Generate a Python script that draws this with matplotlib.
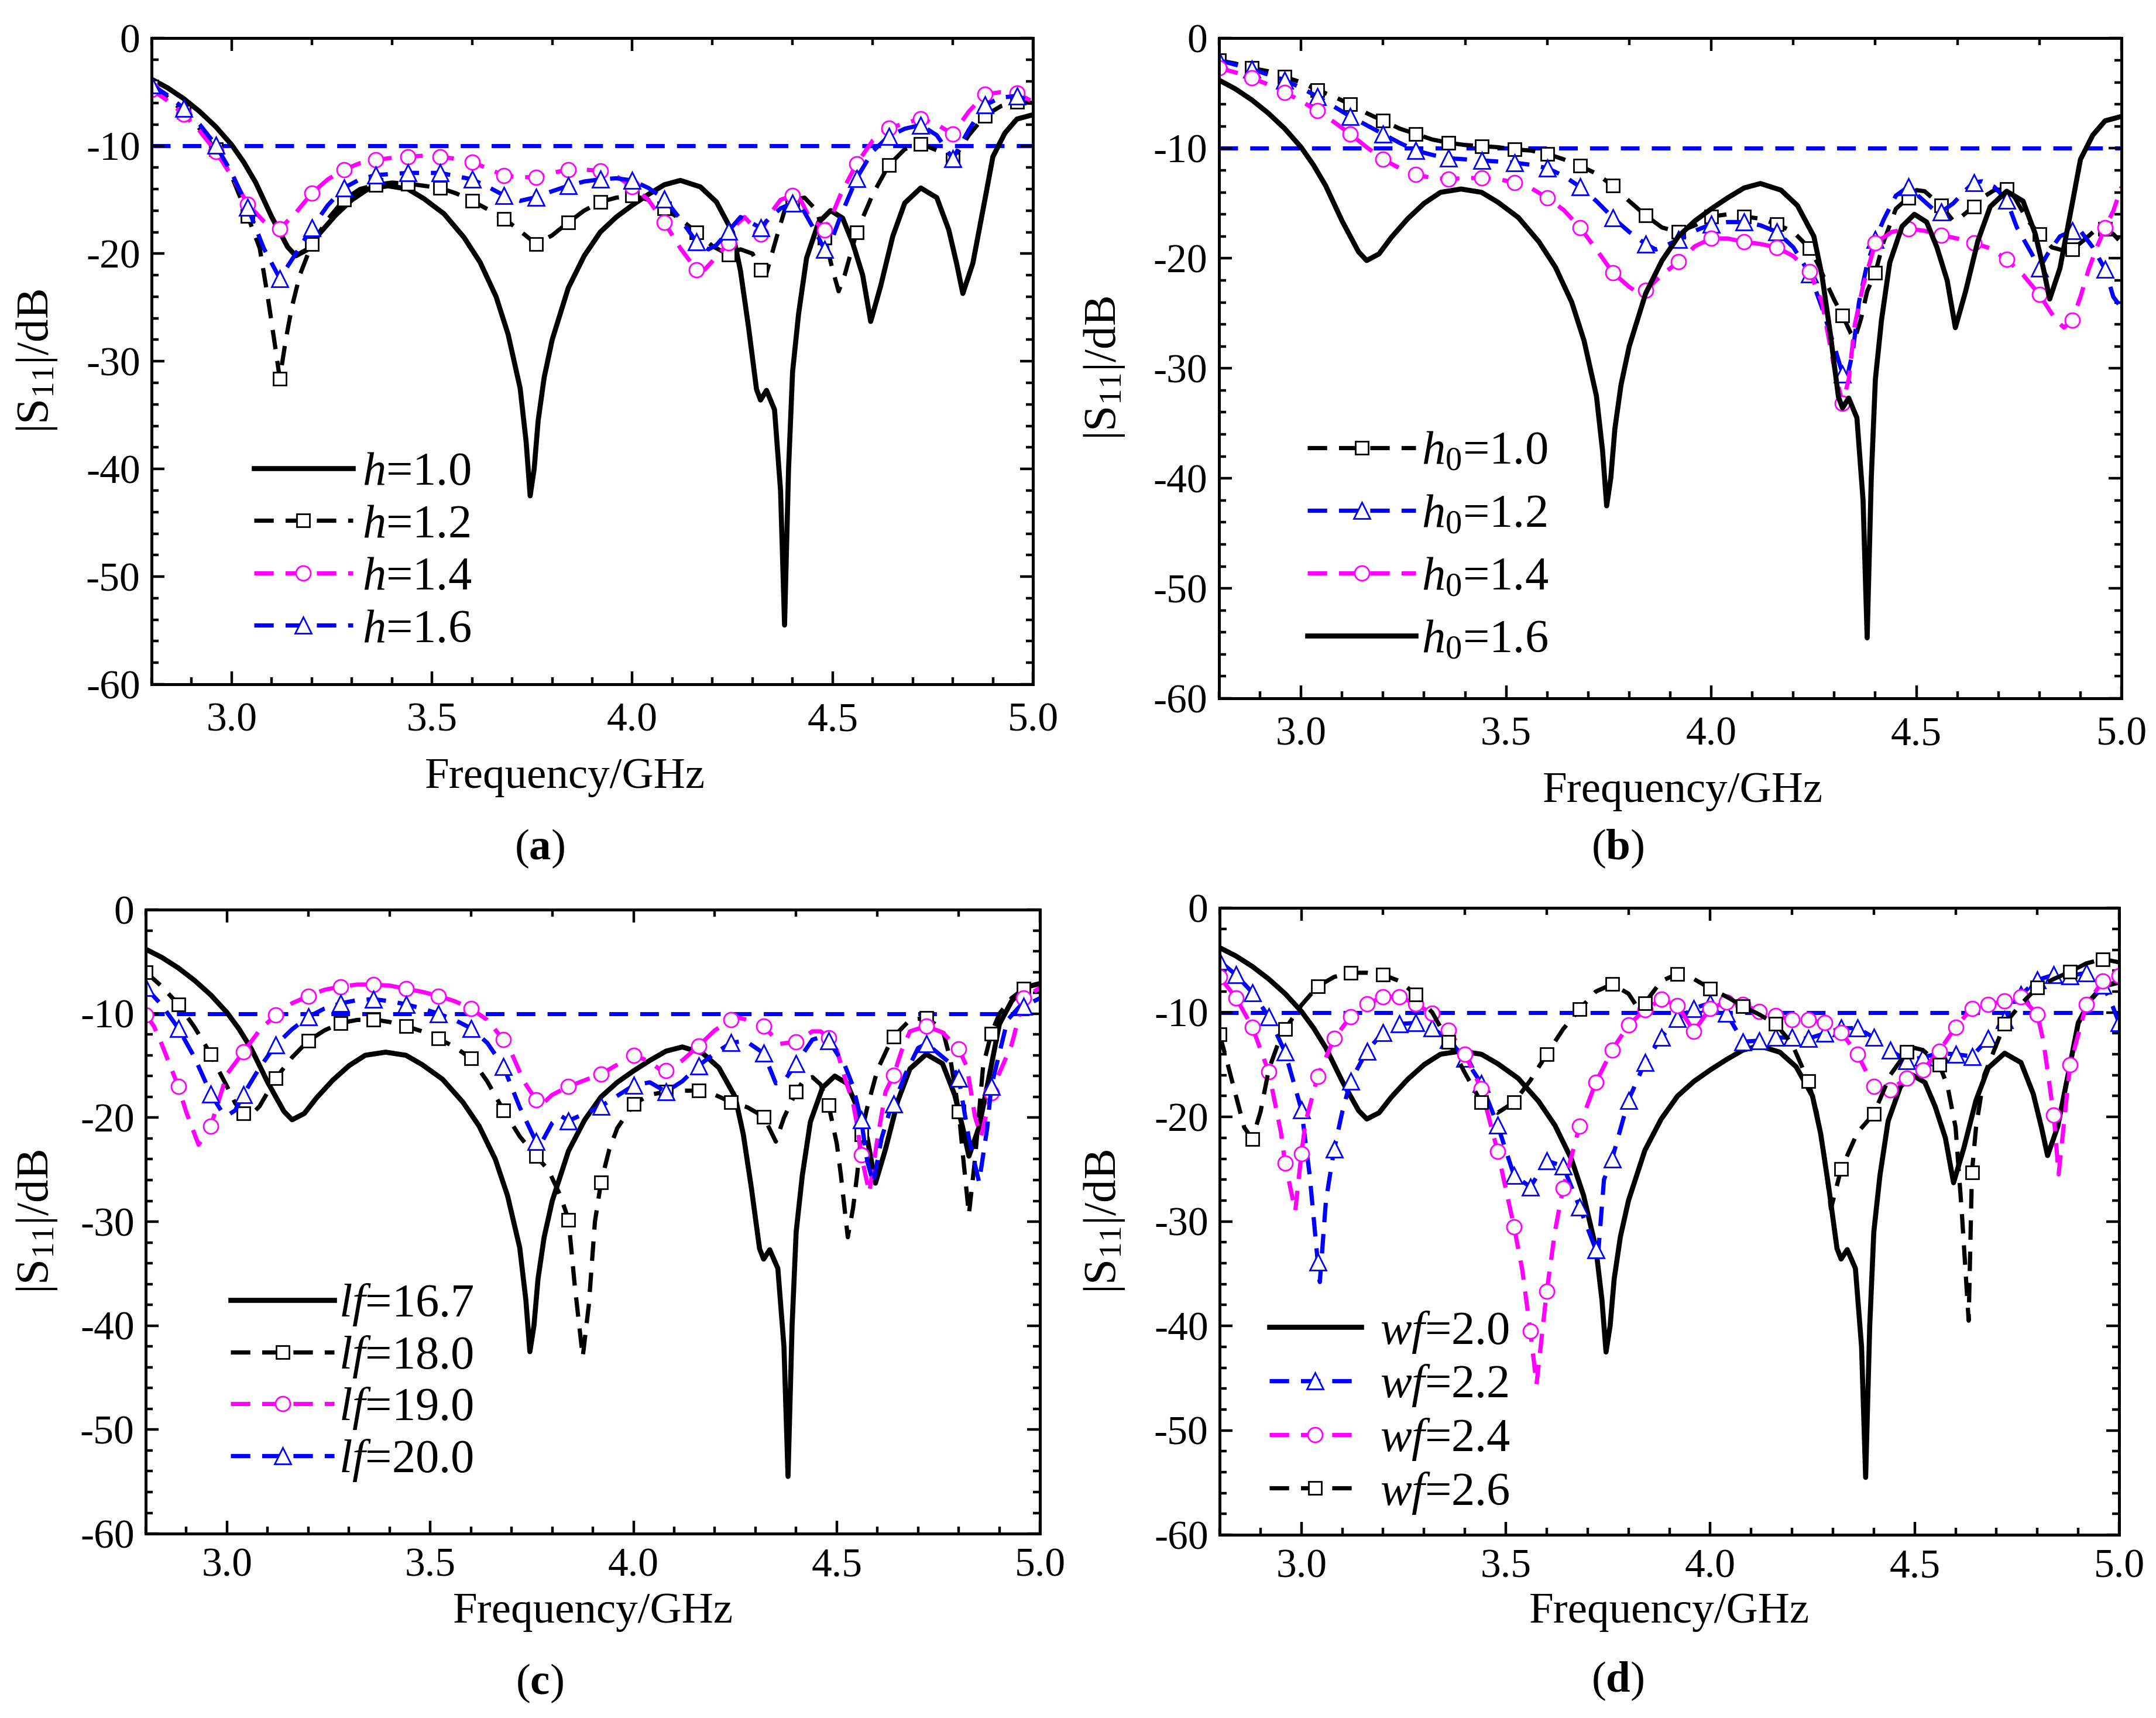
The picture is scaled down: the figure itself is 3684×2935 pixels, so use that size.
import matplotlib
matplotlib.use('Agg')
import matplotlib.pyplot as plt
import numpy as np
from matplotlib.ticker import MultipleLocator, FixedLocator, FormatStrFormatter, NullFormatter

plt.rcParams['font.family'] = ['Liberation Serif', 'DejaVu Serif']
plt.rcParams['mathtext.fontset'] = 'custom'
plt.rcParams['mathtext.rm'] = 'Liberation Serif'
plt.rcParams['mathtext.it'] = 'Liberation Serif:italic'
plt.rcParams['mathtext.bf'] = 'Liberation Serif:bold'
plt.rcParams['axes.unicode_minus'] = False

# 参考曲线 (h=1.0 / h0=1.6 / lf=16.7 / wf=2.0, 四幅图共用)
f_ref = [2.80, 2.84, 2.88, 2.92, 2.96, 3.00, 3.03, 3.06, 3.10, 3.14, 3.16, 3.19, 3.22, 3.26, 3.30,
         3.34, 3.39, 3.44, 3.48, 3.53, 3.58, 3.62, 3.66, 3.69, 3.72, 3.735, 3.745, 3.755, 3.765, 3.78,
         3.80, 3.84, 3.88, 3.92, 3.96, 4.00, 4.04, 4.08, 4.12, 4.17, 4.21, 4.25, 4.27, 4.29, 4.31,
         4.32, 4.335, 4.355, 4.37, 4.38, 4.39, 4.40, 4.415, 4.435, 4.465, 4.495, 4.525, 4.55, 4.575,
         4.595, 4.62, 4.65, 4.68, 4.72, 4.76, 4.79, 4.81, 4.825, 4.85, 4.88, 4.90, 4.93, 4.96, 5.00]
s_ref = [-3.8, -4.6, -5.6, -6.8, -8.2, -9.9, -11.5, -13.4, -16.6, -19.4, -20.2, -19.6, -18.1, -16.4, -15.0,
         -14.0, -13.7, -14.0, -14.9, -16.3, -18.5, -20.8, -24.0, -27.5, -32.5, -37.5, -42.5, -40.0, -35.5, -31.5,
         -28.0, -23.2, -20.2, -18.0, -16.6, -15.5, -14.5, -13.6, -13.2, -13.8, -15.2, -18.0, -21.6, -26.8, -32.6,
         -33.6, -32.7, -34.5, -42.0, -54.5, -40.0, -31.0, -25.6, -20.4, -17.1, -16.0, -16.7, -19.0, -22.0,
         -26.3, -23.0, -18.4, -15.3, -13.9, -14.8, -17.8, -21.0, -23.7, -20.9, -15.0, -11.0, -8.8, -7.5, -7.1]

# (a) h
f_a12 = [2.80, 2.84, 2.88, 2.92, 2.96, 3.00, 3.04, 3.07, 3.09, 3.11, 3.12, 3.135, 3.15, 3.17, 3.20, 3.24,
         3.28, 3.32, 3.36, 3.40, 3.44, 3.48, 3.52, 3.56, 3.60, 3.64, 3.68, 3.72, 3.76, 3.80, 3.84, 3.88,
         3.92, 3.96, 4.00, 4.04, 4.08, 4.12, 4.16, 4.20, 4.24, 4.27, 4.30, 4.32, 4.335, 4.36, 4.38, 4.40,
         4.43, 4.46, 4.48, 4.50, 4.515, 4.53, 4.56, 4.60, 4.64, 4.68, 4.72, 4.76, 4.80, 4.84, 4.88, 4.92,
         4.96, 5.00]
s_a12 = [-4.5, -5.5, -6.8, -8.4, -10.3, -12.8, -16.5, -19.5, -24.0, -29.0, -31.6, -28.0, -25.0, -22.0, -19.1, -16.8,
         -15.0, -14.0, -13.6, -13.4, -13.5, -13.7, -13.9, -14.4, -15.1, -15.9, -16.75, -17.9, -19.1, -18.3, -17.1, -16.0,
         -15.2, -14.8, -14.6, -15.0, -15.8, -16.8, -18.0, -19.3, -20.1, -19.6, -20.0, -21.5, -21.8, -18.5, -16.0, -15.0,
         -14.8, -16.0, -18.5, -21.5, -23.5, -22.0, -18.0, -14.5, -11.8, -10.3, -9.8, -10.4, -11.3, -9.0, -7.2, -6.3,
         -5.9, -6.0]
f_a14 = [2.80, 2.84, 2.88, 2.92, 2.96, 3.00, 3.04, 3.08, 3.11, 3.12, 3.16, 3.20, 3.24, 3.28, 3.32, 3.36,
         3.40, 3.44, 3.48, 3.52, 3.56, 3.60, 3.64, 3.68, 3.72, 3.76, 3.80, 3.84, 3.88, 3.92, 3.96, 4.00,
         4.04, 4.08, 4.12, 4.16, 4.18, 4.21, 4.24, 4.26, 4.28, 4.30, 4.32, 4.34, 4.37, 4.40, 4.42, 4.44,
         4.48, 4.50, 4.52, 4.56, 4.60, 4.64, 4.68, 4.72, 4.76, 4.80, 4.84, 4.88, 4.92, 4.96, 5.00]
s_a14 = [-4.75, -5.8, -7.06, -8.6, -10.5, -12.8, -15.4, -17.0, -17.9, -17.7, -16.2, -14.4, -13.1, -12.2, -11.6, -11.3,
         -11.1, -11.0, -10.9, -11.0, -11.2, -11.5, -12.1, -12.75, -12.9, -12.9, -12.5, -12.2, -12.2, -12.3, -12.8, -13.8,
         -15.0, -17.1, -19.5, -21.5, -21.5, -20.3, -19.0, -17.3, -16.6, -17.4, -18.2, -16.5, -15.0, -14.6, -15.0, -16.5,
         -17.8, -16.3, -14.5, -11.65, -9.5, -8.35, -7.9, -7.46, -8.0, -8.9, -6.8, -5.2, -5.0, -5.1, -5.9]
f_a16 = [2.80, 2.84, 2.88, 2.92, 2.96, 3.00, 3.04, 3.08, 3.12, 3.16, 3.20, 3.24, 3.28, 3.32, 3.36, 3.40,
         3.44, 3.48, 3.52, 3.56, 3.60, 3.64, 3.68, 3.72, 3.76, 3.80, 3.84, 3.88, 3.92, 3.96, 4.00, 4.04,
         4.08, 4.12, 4.16, 4.19, 4.21, 4.24, 4.27, 4.30, 4.32, 4.34, 4.37, 4.40, 4.42, 4.45, 4.48, 4.50,
         4.52, 4.56, 4.60, 4.64, 4.68, 4.72, 4.76, 4.80, 4.84, 4.88, 4.92, 4.96, 5.00]
s_a16 = [-4.3, -5.3, -6.5, -8.0, -9.9, -12.5, -15.7, -19.5, -22.3, -20.0, -17.6, -15.5, -13.9, -13.1, -12.7, -12.6,
         -12.5, -12.5, -12.5, -12.8, -13.1, -13.8, -14.6, -15.1, -14.75, -14.2, -13.7, -13.3, -13.1, -13.0, -13.2, -13.9,
         -14.9, -16.8, -18.9, -19.6, -19.2, -17.9, -16.6, -17.2, -17.6, -16.8, -15.8, -15.3, -15.5, -17.5, -19.6, -18.5,
         -16.5, -13.0, -10.5, -9.1, -8.4, -8.05, -9.0, -11.2, -8.5, -6.2, -5.5, -5.35, -5.9]

# (b) h0
f_b10 = [2.80, 2.84, 2.88, 2.92, 2.96, 3.00, 3.04, 3.08, 3.12, 3.16, 3.20, 3.24, 3.28, 3.32, 3.36, 3.40,
         3.44, 3.48, 3.52, 3.56, 3.60, 3.64, 3.68, 3.72, 3.76, 3.80, 3.84, 3.88, 3.92, 3.96, 4.00, 4.04,
         4.08, 4.12, 4.16, 4.20, 4.24, 4.26, 4.28, 4.30, 4.32, 4.34, 4.35, 4.365, 4.38, 4.40, 4.42, 4.45,
         4.48, 4.50, 4.52, 4.56, 4.59, 4.61, 4.64, 4.66, 4.69, 4.72, 4.74, 4.77, 4.80, 4.83, 4.86, 4.88,
         4.91, 4.94, 4.96, 4.98, 5.00]
s_b10 = [-2.0, -2.3, -2.7, -3.0, -3.5, -4.0, -4.7, -5.3, -6.0, -6.8, -7.5, -8.2, -8.7, -9.2, -9.5, -9.7,
         -9.8, -9.9, -10.1, -10.2, -10.5, -11.0, -11.6, -12.3, -13.4, -14.8, -16.1, -17.2, -17.6, -17.0, -16.2, -16.0,
         -16.2, -16.4, -16.9, -17.6, -19.1, -20.5, -22.2, -23.8, -25.2, -26.8, -27.3, -25.5, -23.0, -21.3, -18.5, -15.5,
         -14.5, -13.8, -13.9, -15.2, -16.6, -16.2, -15.3, -14.5, -13.8, -13.7, -14.5, -16.5, -17.8, -19.0, -19.3, -19.2,
         -18.3, -17.3, -17.3, -17.8, -18.6]
f_b12 = [2.80, 2.84, 2.88, 2.92, 2.96, 3.00, 3.04, 3.08, 3.12, 3.16, 3.20, 3.24, 3.28, 3.32, 3.36, 3.40,
         3.44, 3.48, 3.52, 3.56, 3.60, 3.64, 3.68, 3.72, 3.76, 3.80, 3.84, 3.865, 3.88, 3.92, 3.96, 4.00,
         4.04, 4.08, 4.12, 4.16, 4.20, 4.24, 4.27, 4.30, 4.32, 4.33, 4.345, 4.36, 4.38, 4.40, 4.42, 4.45,
         4.48, 4.51, 4.54, 4.56, 4.59, 4.62, 4.64, 4.66, 4.69, 4.72, 4.745, 4.78, 4.80, 4.82, 4.85, 4.88,
         4.90, 4.93, 4.96, 4.98, 5.00]
s_b12 = [-2.0, -2.4, -2.8, -3.3, -3.8, -4.5, -5.3, -6.2, -7.1, -7.9, -8.7, -9.5, -10.2, -10.6, -10.9, -11.0,
         -11.1, -11.2, -11.3, -11.5, -11.8, -12.5, -13.5, -14.8, -16.3, -17.6, -18.7, -19.2, -19.0, -18.3, -17.5, -16.9,
         -16.7, -16.7, -17.0, -17.6, -19.0, -21.4, -24.5, -28.0, -30.5, -31.0, -28.5, -24.0, -20.5, -18.3, -16.5, -14.3,
         -13.5, -14.5, -15.5, -15.8, -15.0, -13.8, -13.1, -13.0, -13.5, -14.7, -17.2, -19.5, -20.9, -19.6, -18.0, -17.5,
         -17.5, -19.0, -21.0, -23.5, -24.5]
f_b14 = [2.80, 2.84, 2.88, 2.92, 2.96, 3.00, 3.04, 3.08, 3.12, 3.16, 3.20, 3.24, 3.28, 3.32, 3.36, 3.40,
         3.44, 3.48, 3.52, 3.56, 3.60, 3.64, 3.68, 3.72, 3.76, 3.80, 3.82, 3.84, 3.88, 3.92, 3.96, 4.00,
         4.04, 4.08, 4.12, 4.16, 4.20, 4.24, 4.27, 4.30, 4.32, 4.335, 4.35, 4.37, 4.40, 4.44, 4.48, 4.52,
         4.56, 4.60, 4.64, 4.68, 4.72, 4.76, 4.80, 4.84, 4.86, 4.88, 4.90, 4.92, 4.94, 4.96, 4.98, 5.00]
s_b14 = [-2.7, -3.1, -3.6, -4.2, -4.9, -5.7, -6.6, -7.6, -8.7, -9.9, -11.0, -11.8, -12.4, -12.7, -12.8, -12.7,
         -12.7, -12.8, -13.1, -13.6, -14.5, -15.6, -17.2, -19.2, -21.3, -22.6, -23.1, -22.9, -21.5, -20.3, -18.9, -18.2,
         -18.2, -18.5, -18.7, -19.0, -19.8, -21.2, -24.0, -30.0, -33.2, -31.0, -26.0, -22.5, -18.6, -17.6, -17.3, -17.5,
         -17.9, -18.2, -18.6, -19.1, -20.1, -21.5, -23.3, -25.6, -26.3, -25.6, -23.5, -21.0, -19.0, -17.2, -15.7, -13.5]

# (c) lf
f_c18 = [2.80, 2.84, 2.88, 2.92, 2.96, 2.98, 3.00, 3.02, 3.04, 3.06, 3.08, 3.12, 3.16, 3.20, 3.24, 3.28,
         3.32, 3.36, 3.40, 3.44, 3.48, 3.52, 3.56, 3.60, 3.64, 3.68, 3.72, 3.76, 3.79, 3.82, 3.84, 3.855,
         3.875, 3.89, 3.905, 3.92, 3.94, 3.96, 4.00, 4.04, 4.08, 4.12, 4.16, 4.20, 4.24, 4.28, 4.32, 4.35,
         4.37, 4.40, 4.42, 4.44, 4.46, 4.48, 4.50, 4.51, 4.527, 4.54, 4.55, 4.56, 4.575, 4.60, 4.625, 4.64,
         4.68, 4.72, 4.76, 4.78, 4.80, 4.81, 4.825, 4.84, 4.86, 4.88, 4.90, 4.93, 4.96, 5.00]
s_c18 = [-6.0, -7.4, -9.1, -11.3, -13.9, -15.5, -17.0, -18.6, -19.6, -19.7, -18.9, -16.2, -14.2, -12.6, -11.6, -10.9,
         -10.6, -10.55, -10.8, -11.2, -11.7, -12.4, -13.2, -14.3, -16.5, -19.3, -21.8, -23.7, -25.0, -27.5, -29.8, -36.0,
         -43.0, -38.0, -30.0, -26.2, -23.1, -21.0, -18.7, -17.8, -17.5, -17.4, -17.4, -17.8, -18.5, -19.0, -19.9, -22.3,
         -20.0, -17.5, -16.3, -16.1, -16.8, -18.8, -22.5, -25.5, -31.5, -28.7, -25.5, -21.6, -19.0, -15.4, -13.3, -12.2,
         -10.6, -10.4, -11.5, -14.5, -19.4, -23.5, -29.3, -24.0, -15.0, -11.9, -10.0, -8.5, -7.6, -7.5]
f_c19 = [2.80, 2.82, 2.84, 2.88, 2.90, 2.93, 2.96, 2.98, 3.00, 3.04, 3.08, 3.12, 3.16, 3.20, 3.24, 3.28,
         3.32, 3.36, 3.40, 3.44, 3.48, 3.52, 3.56, 3.60, 3.64, 3.68, 3.70, 3.73, 3.76, 3.775, 3.80, 3.84,
         3.88, 3.92, 3.96, 4.00, 4.04, 4.075, 4.08, 4.12, 4.16, 4.20, 4.24, 4.25, 4.28, 4.32, 4.36, 4.40,
         4.44, 4.46, 4.48, 4.50, 4.52, 4.54, 4.55, 4.56, 4.58, 4.60, 4.62, 4.64, 4.66, 4.68, 4.72, 4.76,
         4.80, 4.82, 4.84, 4.855, 4.88, 4.90, 4.93, 4.96, 5.00]
s_c19 = [-10.1, -11.2, -13.0, -17.0, -19.5, -22.6, -20.8, -18.3, -15.8, -13.7, -11.6, -10.1, -9.0, -8.3, -7.7, -7.4,
         -7.2, -7.2, -7.3, -7.6, -7.9, -8.3, -8.8, -9.5, -10.6, -12.5, -13.8, -16.5, -18.3, -18.7, -17.8, -17.0,
         -16.4, -15.8, -14.9, -14.0, -14.6, -15.7, -15.5, -14.5, -13.1, -11.6, -10.6, -10.3, -10.6, -11.2, -12.9, -12.7,
         -11.7, -11.7, -12.3, -13.5, -16.2, -18.6, -20.7, -23.6, -27.2, -22.0, -17.5, -15.9, -13.5, -11.7, -11.2, -11.8,
         -13.4, -15.1, -19.9, -21.8, -17.6, -15.7, -13.0, -8.5, -7.5]
f_c20 = [2.80, 2.84, 2.88, 2.92, 2.96, 2.985, 3.00, 3.02, 3.04, 3.08, 3.12, 3.16, 3.20, 3.24, 3.28, 3.32,
         3.36, 3.40, 3.44, 3.48, 3.52, 3.56, 3.60, 3.64, 3.68, 3.72, 3.76, 3.775, 3.80, 3.82, 3.84, 3.88,
         3.92, 3.96, 4.00, 4.04, 4.08, 4.12, 4.16, 4.20, 4.24, 4.275, 4.32, 4.35, 4.37, 4.40, 4.44, 4.465,
         4.48, 4.52, 4.54, 4.56, 4.575, 4.59, 4.61, 4.63, 4.64, 4.67, 4.70, 4.72, 4.74, 4.78, 4.80, 4.825,
         4.85, 4.87, 4.88, 4.92, 4.95, 4.96, 5.00]
s_c20 = [-7.5, -9.2, -11.4, -14.2, -17.7, -19.3, -19.8, -19.3, -17.8, -15.2, -13.0, -11.5, -10.3, -9.5, -9.0, -8.7,
         -8.6, -8.8, -9.1, -9.5, -10.0, -10.6, -11.4, -12.8, -15.1, -19.0, -22.3, -22.3, -20.5, -19.8, -20.3, -19.6,
         -18.9, -17.9, -16.9, -16.6, -17.5, -16.5, -15.0, -13.8, -12.8, -12.6, -13.8, -16.7, -16.5, -14.8, -12.5, -12.2,
         -12.6, -15.0, -17.0, -20.2, -24.2, -26.3, -22.0, -19.4, -18.7, -15.7, -13.3, -12.9, -13.5, -14.8, -16.2, -22.0,
         -26.2, -21.0, -17.0, -10.6, -9.3, -9.3, -8.5]

# (d) wf
f_d22 = [2.80, 2.84, 2.88, 2.92, 2.96, 3.00, 3.02, 3.04, 3.045, 3.06, 3.08, 3.10, 3.12, 3.16, 3.20, 3.24,
         3.28, 3.32, 3.36, 3.40, 3.44, 3.48, 3.52, 3.56, 3.60, 3.64, 3.68, 3.72, 3.725, 3.74, 3.76, 3.80,
         3.84, 3.88, 3.92, 3.96, 4.00, 4.04, 4.08, 4.12, 4.16, 4.20, 4.24, 4.28, 4.32, 4.36, 4.40, 4.44,
         4.48, 4.52, 4.56, 4.60, 4.64, 4.68, 4.72, 4.76, 4.80, 4.84, 4.88, 4.92, 4.96, 4.98, 5.00]
s_d22 = [-5.1, -6.4, -8.1, -10.4, -13.8, -19.3, -25.5, -33.9, -35.8, -28.0, -23.1, -19.5, -16.6, -13.7, -11.9, -11.1,
         -11.0, -11.5, -12.6, -14.4, -16.8, -20.8, -25.6, -26.7, -24.2, -24.7, -28.6, -32.7, -33.5, -26.0, -24.0, -18.4,
         -14.8, -12.4, -10.6, -9.6, -9.1, -10.1, -12.8, -12.7, -12.4, -12.4, -12.5, -12.0, -11.5, -11.5, -12.4, -13.6,
         -14.6, -14.3, -13.9, -14.0, -14.2, -12.5, -10.7, -8.3, -6.9, -6.4, -6.5, -6.2, -7.4, -9.0, -11.0]
f_d24 = [2.80, 2.84, 2.88, 2.92, 2.95, 2.96, 2.985, 3.00, 3.01, 3.04, 3.08, 3.12, 3.16, 3.20, 3.24, 3.28,
         3.32, 3.36, 3.40, 3.44, 3.48, 3.52, 3.54, 3.56, 3.575, 3.60, 3.62, 3.64, 3.68, 3.72, 3.76, 3.80,
         3.84, 3.88, 3.92, 3.96, 4.00, 4.04, 4.08, 4.12, 4.16, 4.20, 4.24, 4.28, 4.32, 4.36, 4.40, 4.44,
         4.48, 4.52, 4.56, 4.60, 4.64, 4.68, 4.72, 4.76, 4.80, 4.815, 4.84, 4.852, 4.88, 4.92, 4.96, 5.00]
s_d24 = [-6.6, -8.6, -11.4, -15.7, -21.5, -24.4, -29.0, -23.5, -20.5, -16.1, -12.5, -10.4, -9.2, -8.5, -8.5, -9.2,
         -10.1, -11.7, -14.0, -17.3, -23.3, -30.5, -34.6, -40.5, -45.6, -36.7, -31.0, -26.8, -20.9, -16.7, -13.6, -11.2,
         -9.75, -8.75, -9.35, -11.8, -9.6, -9.0, -9.25, -9.9, -10.3, -10.7, -10.7, -11.0, -11.9, -14.0, -17.1, -17.4,
         -16.3, -15.5, -13.7, -11.4, -9.6, -9.25, -8.9, -8.5, -10.2, -12.8, -19.8, -25.5, -15.0, -9.25, -7.0, -6.5]
f_d26 = [2.80, 2.82, 2.84, 2.86, 2.88, 2.90, 2.92, 2.94, 2.96, 3.00, 3.04, 3.08, 3.12, 3.16, 3.20, 3.24,
         3.28, 3.32, 3.36, 3.40, 3.44, 3.48, 3.52, 3.56, 3.60, 3.64, 3.68, 3.72, 3.76, 3.80, 3.82, 3.84,
         3.88, 3.92, 3.96, 4.00, 4.04, 4.08, 4.12, 4.16, 4.20, 4.24, 4.26, 4.28, 4.295, 4.32, 4.36, 4.40,
         4.44, 4.48, 4.50, 4.52, 4.56, 4.58, 4.60, 4.615, 4.632, 4.64, 4.65, 4.67, 4.72, 4.76, 4.80, 4.84,
         4.88, 4.92, 4.96, 5.00]
s_d26 = [-12.1, -15.0, -18.0, -21.0, -22.1, -19.5, -15.5, -13.3, -11.6, -9.3, -7.5, -6.6, -6.2, -6.2, -6.4, -7.0,
         -8.3, -10.0, -12.8, -15.8, -18.6, -19.6, -18.6, -16.5, -14.0, -11.6, -9.7, -8.0, -7.3, -8.2, -9.4, -9.1,
         -7.0, -6.3, -6.8, -7.7, -8.5, -9.4, -10.2, -11.1, -13.0, -16.6, -19.5, -24.0, -28.8, -25.0, -21.5, -19.7,
         -16.0, -13.8, -13.4, -13.6, -15.0, -17.0, -21.0, -29.0, -39.5, -25.3, -21.0, -16.0, -11.1, -9.2, -7.6, -6.8,
         -6.1, -5.3, -4.9, -5.2]

x_ticks = [3.0, 3.5, 4.0, 4.5, 5.0]
top_ticks = [3.0, 4.0, 5.0]
ref_level = -10

BLACK, MAG, BLUE = 'black', '#FF00FF', '#0000FF'
SQ, CI, TR = 16, 18, 20   # 标记大小


def curve(ax, f, s, color, marker=None, step=0.08, ms=16, dashed=True, label=None):
    f = np.asarray(f)
    s = np.asarray(s)
    k = (f - 2.8) / step
    mask = list(np.abs(k - np.round(k)) < 1e-6)
    ls = (0, (4.6, 2.8)) if dashed else '-'
    lw = 5.2 if dashed else 6.2
    if marker:
        ax.plot(f, s, color=color, lw=lw, ls=ls, marker=marker, markevery=mask,
                ms=ms, mfc='white', mec=color, mew=2.0, label=label)
    else:
        ax.plot(f, s, color=color, lw=lw, ls=ls, label=label)


def setup(ax, xlab_pos, ylab_x, tickpad):
    ax.set_xlim(2.8, 5.0)
    ax.set_ylim(-60, 0)
    ax.xaxis.set_major_locator(FixedLocator(x_ticks))
    ax.xaxis.set_minor_locator(MultipleLocator(0.1))
    ax.yaxis.set_major_locator(MultipleLocator(10))
    ax.yaxis.set_minor_locator(MultipleLocator(2))
    ax.xaxis.set_major_formatter(FormatStrFormatter('%.1f'))
    ax.yaxis.set_major_formatter(FormatStrFormatter('%d'))
    ax.tick_params(which='both', direction='in', top=False, right=True, width=3.2)
    ax.tick_params(which='major', length=16)
    ax.tick_params(which='minor', length=8.5)
    ax.tick_params(axis='x', labelsize=50, pad=tickpad)
    ax.tick_params(axis='y', labelsize=50, pad=14)
    for sp in ax.spines.values():
        sp.set_linewidth(3.6)
    # 顶部坐标轴：主刻度 1.0，次刻度 0.2
    top = ax.secondary_xaxis('top')
    top.xaxis.set_major_locator(FixedLocator(top_ticks))
    top.xaxis.set_minor_locator(MultipleLocator(0.2))
    top.xaxis.set_major_formatter(NullFormatter())
    top.tick_params(which='both', direction='in', width=3.2)
    top.tick_params(which='major', length=16)
    top.tick_params(which='minor', length=8.5)
    top.spines['top'].set_linewidth(3.6)
    ax.axhline(ref_level, color=BLUE, lw=5.0, ls=(0, (4.6, 3.0)), zorder=1)
    ax.set_xlabel('Frequency/GHz', fontsize=54)
    ax.xaxis.label.set_va('center')
    ax.xaxis.set_label_coords(xlab_pos[0], xlab_pos[1])
    ax.set_ylabel('|S$_{11}$|/dB', fontsize=57)
    ax.yaxis.label.set_va('center')
    ax.yaxis.set_label_coords(ylab_x, 0.5)


def legend(ax, anchor, hl, tp, ls):
    ax.legend(loc='upper left', bbox_to_anchor=anchor, frameon=False, fontsize=58,
              handlelength=hl, handletextpad=tp, labelspacing=ls, borderpad=0, borderaxespad=0)


fig = plt.figure(figsize=(36.84, 29.35), dpi=100)
ax_a = fig.add_axes([0.0703, 0.6017, 0.4088, 0.3760])
ax_b = fig.add_axes([0.5654, 0.5935, 0.4186, 0.3842])
ax_c = fig.add_axes([0.0676, 0.1073, 0.4148, 0.3632])
ax_d = fig.add_axes([0.5657, 0.1066, 0.4172, 0.3649])

# (a)
setup(ax_a, (0.469, -0.144), -0.130, 22)
curve(ax_a, f_ref, s_ref, BLACK, dashed=False, label='$h$=1.0')
curve(ax_a, f_a12, s_a12, BLACK, 's', ms=SQ, label='$h$=1.2')
curve(ax_a, f_a14, s_a14, MAG, 'o', ms=CI, label='$h$=1.4')
curve(ax_a, f_a16, s_a16, BLUE, '^', ms=TR, label='$h$=1.6')
legend(ax_a, (0.116, 0.36), 2.1, 0.2, 0.2)

# (b)
setup(ax_b, (0.514, -0.141), -0.127, 22)
curve(ax_b, f_b10, s_b10, BLACK, 's', ms=SQ, label=r'$h_{\mathit{0}}$=1.0')
curve(ax_b, f_b12, s_b12, BLUE, '^', ms=TR, label=r'$h_{\mathit{0}}$=1.2')
curve(ax_b, f_b14, s_b14, MAG, 'o', ms=CI, label=r'$h_{\mathit{0}}$=1.4')
curve(ax_b, f_ref, s_ref, BLACK, dashed=False, label=r'$h_{\mathit{0}}$=1.6')
legend(ax_b, (0.098, 0.405), 2.3, 0.12, 0.42)

# (c)
setup(ax_c, (0.50, -0.126), -0.122, 17)
curve(ax_c, f_ref, s_ref, BLACK, dashed=False, label=r'$\mathit{lf}$=16.7')
curve(ax_c, f_c18, s_c18, BLACK, 's', ms=SQ, label=r'$\mathit{lf}$=18.0')
curve(ax_c, f_c19, s_c19, MAG, 'o', ms=CI, label=r'$\mathit{lf}$=19.0')
curve(ax_c, f_c20, s_c20, BLUE, '^', ms=TR, label=r'$\mathit{lf}$=20.0')
legend(ax_c, (0.095, 0.403), 2.2, 0.1, 0.13)

# (d)
setup(ax_d, (0.50, -0.123), -0.128, 17)
curve(ax_d, f_ref, s_ref, BLACK, dashed=False, label=r'$\mathit{wf}$=2.0')
curve(ax_d, f_d22, s_d22, BLUE, '^', step=0.04, ms=TR, label=r'$\mathit{wf}$=2.2')
curve(ax_d, f_d24, s_d24, MAG, 'o', step=0.04, ms=CI, label=r'$\mathit{wf}$=2.4')
curve(ax_d, f_d26, s_d26, BLACK, 's', ms=SQ, label=r'$\mathit{wf}$=2.6')
legend(ax_d, (0.055, 0.36), 1.95, 0.4, 0.17)

# 子图标号
for txt, x, y in [('a', 0.2503, 0.5060), ('b', 0.7503, 0.5060), ('c', 0.2503, 0.0201), ('d', 0.7503, 0.0215)]:
    fig.text(x, y, r'($\mathbf{%s}$)' % txt, fontsize=54, ha='center', va='center')

fig.savefig('out.png', dpi=100)
